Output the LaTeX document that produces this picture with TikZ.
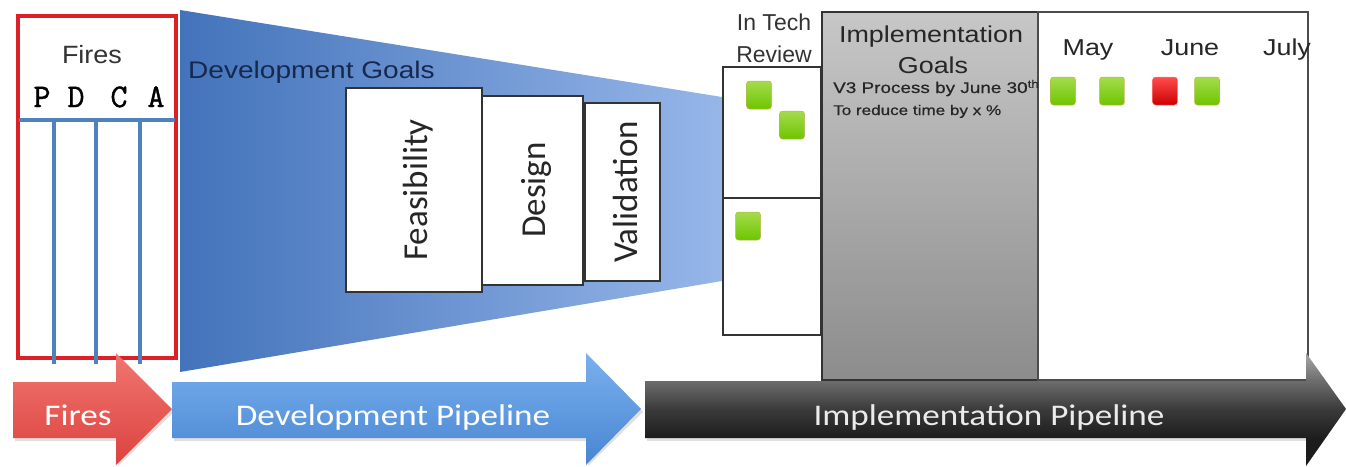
\documentclass[tikz,border=0pt]{standalone}
\usepackage{fontspec}
\setmainfont{Liberation Sans}
\newfontfamily\arialx[FakeStretch=1.17]{Liberation Sans}
\newfontfamily\arialy[FakeStretch=1.08]{Liberation Sans}
\newfontfamily\arialv[FakeStretch=1.22,FakeBold=0.6]{Liberation Sans}
\newfontfamily\calx[FakeStretch=1.17]{Carlito}
\newfontfamily\calr{Carlito}
\newfontfamily\courf[FakeBold=1.2]{Latin Modern Mono}
\newcommand\fsz[1]{\fontsize{#1}{#1}\selectfont}
\definecolor{pdcablue}{HTML}{4F81BD}
\definecolor{firered}{HTML}{DD2026}
\definecolor{navytxt}{HTML}{17284F}
\definecolor{dk1}{HTML}{A8A8A8}
\definecolor{dk2}{HTML}{6E6E6E}
\definecolor{dk3}{HTML}{3A3A3A}
\definecolor{dk4}{HTML}{1C1C1C}
\pgfdeclareverticalshading{darkarrow}{100bp}{color(0bp)=(dk4); color(25bp)=(dk4); color(37bp)=(dk4); color(50bp)=(dk3); color(63bp)=(dk2); color(75bp)=(dk1); color(100bp)=(dk1)}
\begin{document}
\begin{tikzpicture}[x=1pt,y=-1pt,
  wbox/.style={draw=black!80,line width=1.6pt,fill=white},
  gsq/.style={minimum width=25pt,minimum height=28pt,inner sep=0pt,rounded corners=3pt,
    top color=green!35!lime!60!olive!70!white,bottom color=green!50!lime!55!olive,draw=olive!60!white,line width=0.5pt},
  rsq/.style={minimum width=25pt,minimum height=28pt,inner sep=0pt,rounded corners=3pt,
    top color=red!70!white,bottom color=red!80!black,draw=red!50!white,line width=0.5pt},
  wtxt/.style={text=white,inner sep=0pt,anchor=base},
  shadowfill/.style={fill=black!12},
  ]
\useasboundingbox (0,0) rectangle (1346,466);
\fill[white] (0,0) rectangle (1346,466);

% funnel
\shade[left color={rgb,255:red,67;green,115;blue,187},right color={rgb,255:red,150;green,182;blue,232}]
  (180,10) -- (722,97) -- (722,281) -- (180,372) -- cycle;

% red fires box
\draw[firered,line width=3.5pt] (18,16) rectangle (176,358);
\node[anchor=base,inner sep=0pt,text=black!80] (firestop) at (92,63) {\arialy\fsz{25}Fires};
\foreach \l/\x in {P/42,D/76,C/119,A/156}
  \node[anchor=base,inner sep=0pt,font=\courf\fsz{33}] (pdca\l) at (\x,107) {\l};
\coordinate (hl) at (19,120);
\coordinate (hr) at (175,120);
\draw[pdcablue,line width=4.5pt] (hl) -- (hr);
\foreach \x/\n in {54/p,96/d,140/c}{
  \coordinate (t\n) at (\x,120);
  \coordinate (b\n) at (\x,364);
  \draw[pdcablue,line width=4.5pt] (t\n) -- (b\n);
}

% development goals
\node[anchor=base west,inner sep=0pt,text=navytxt] (devgoals) at (188,78) {\arialx\fsz{24}Development Goals};
\draw[wbox] (585,103) rectangle (660,281);
\draw[wbox] (482,96) rectangle (583,285);
\draw[wbox] (346,88) rectangle (482,292);
\node[rotate=90,inner sep=0pt,text=black!85] (feas) at (418,190) {\calr\fsz{35}Feasibility};
\node[rotate=90,inner sep=0pt,text=black!85] (design) at (536,190) {\calr\fsz{35}Design};
\node[rotate=90,inner sep=0pt,text=black!85] (valid) at (625,192) {\calr\fsz{35}Validation};

% in tech review
\node[anchor=base,inner sep=0pt,text=black!80] (intech) at (774,30) {\fsz{23}In Tech};
\node[anchor=base,inner sep=0pt,text=black!80] (review) at (774,62) {\fsz{23}Review};
\draw[wbox] (723,67) rectangle (821,198);
\draw[wbox] (723,198) rectangle (821,335);
\node[gsq] (s1) at (759,95) {};
\node[gsq] (s2) at (792,125) {};
\node[gsq] (s3) at (748,226) {};

% implementation goals gray box
\shade[top color=black!22,bottom color=black!45] (822,12) rectangle (1038,380);
\draw[black!80,line width=1.6pt] (822,12) rectangle (1038,380);
\draw[black!70,line width=1.2pt] (1038,12) rectangle (1308,380);
\node[anchor=base,inner sep=0pt,text=black!85] (implg1) at (931,42) {\arialx\fsz{23}Implementation};
\node[anchor=base,inner sep=0pt,text=black!85] (implg2) at (933,73) {\arialx\fsz{23}Goals};
\node[anchor=base west,inner sep=0pt,text=black!85] (v3) at (833,93) {\arialv\fsz{15.5}V3 Process by June 30\textsuperscript{th}};
\node[anchor=base west,inner sep=0pt,text=black!85] (reduce) at (833,115) {\arialv\fsz{14}To reduce time by x \%};

% months
\node[anchor=base,inner sep=0pt,text=black!85] (may) at (1088,55) {\arialx\fsz{23}May};
\node[anchor=base,inner sep=0pt,text=black!85] (june) at (1190,55) {\arialx\fsz{23}June};
\node[anchor=base,inner sep=0pt,text=black!85] (july) at (1287,55) {\arialx\fsz{23}July};
\node[gsq] (m1) at (1063,91) {};
\node[gsq] (m2) at (1112,91) {};
\node[rsq] (m3) at (1165,91) {};
\node[gsq] (m4) at (1207,91) {};

% bottom arrows (soft shadows)
\fill[shadowfill] (15,385) -- (118,385) -- (118,356) -- (174,412) -- (118,466) -- (118,441) -- (15,441) -- cycle;
\fill[shadowfill] (174,385) -- (588,385) -- (588,356) -- (643,412) -- (588,466) -- (588,441) -- (174,441) -- cycle;
\fill[shadowfill] (647,384) -- (1308,384) -- (1308,441) -- (647,441) -- cycle;
\shade[top color={rgb,255:red,240;green,118;blue,112},bottom color={rgb,255:red,220;green,66;blue,62}]
  (13,382) -- (116,382) -- (116,353) -- (172,409) -- (116,465) -- (116,438) -- (13,438) -- cycle;
\shade[top color={rgb,255:red,122;green,176;blue,238},bottom color={rgb,255:red,72;green,134;blue,210}]
  (172,382) -- (586,382) -- (586,353) -- (641,409) -- (586,465) -- (586,438) -- (172,438) -- cycle;
\shade[shading=darkarrow]
  (645,381) -- (1306,381) -- (1306,353) -- (1346,409) -- (1306,466) -- (1306,438) -- (645,438) -- cycle;
\node[wtxt] (firesarr) at (78,425) {\calx\fsz{30}Fires};
\node[wtxt] (devpipe) at (393,425) {\calx\fsz{30}Development Pipeline};
\node[wtxt,text=black!8] (implpipe) at (989,425) {\calx\fsz{30}Implementation Pipeline};
\end{tikzpicture}
\end{document}
